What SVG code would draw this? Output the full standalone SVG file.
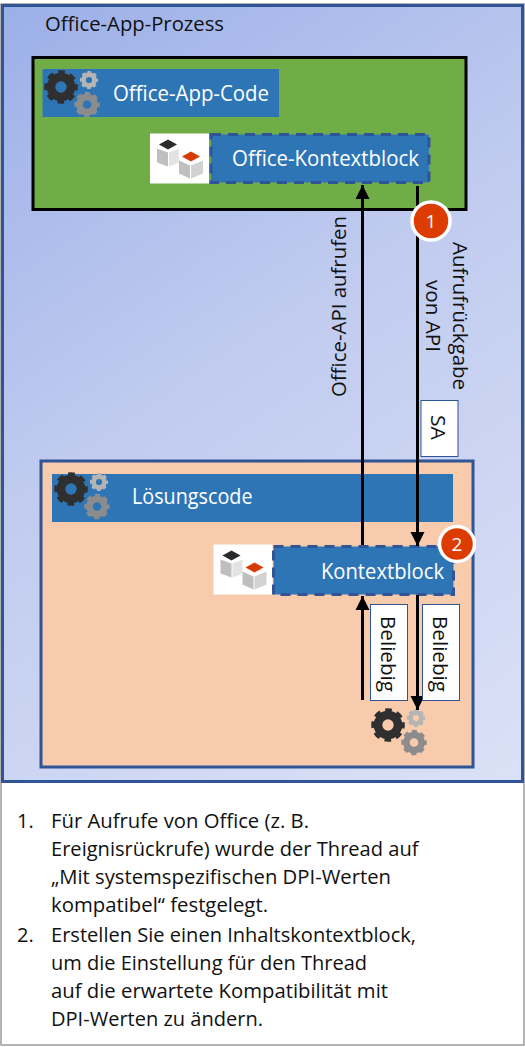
<svg xmlns="http://www.w3.org/2000/svg" xmlns:xlink="http://www.w3.org/1999/xlink" width="525" height="1047" viewBox="0 0 525 1047">
<style>
text{font-family:"Open Sans","Noto Sans","Liberation Sans",sans-serif}
.t{font-size:20px;fill:#111}
.w{font-size:21px;fill:#fff}
.lb{font-size:20.5px;fill:#111}
.bl{fill:#2e75b6}
.dash{fill:#2e75b6;stroke:#2f5597;stroke-width:3;stroke-dasharray:10 7}
.box{fill:#fff;stroke:#2f5597;stroke-width:1}
.c{stroke:#000;stroke-width:3;fill:none}
.badge{fill:#dc3c00;stroke:#fff;stroke-width:3.5}
.bt{font-size:19px;fill:#fff;text-anchor:middle}
</style>
<defs>
<linearGradient id="bg" gradientUnits="userSpaceOnUse" x1="0" y1="0" x2="525" y2="780"><stop offset="0" stop-color="#9bafe8"/><stop offset="0.45" stop-color="#c0cbef"/><stop offset="1" stop-color="#dbe1f6"/></linearGradient>
<marker id="ah" markerUnits="userSpaceOnUse" markerWidth="15" markerHeight="16" refX="14" refY="7.500" orient="auto"><path d="M0 0.500L14 7.500L0 14.500Z" fill="#000"/></marker>
<g id="gear"><circle r="10" fill="none" stroke="currentColor" stroke-width="8.6"/><circle r="14.6" fill="none" stroke="currentColor" stroke-width="4.4" stroke-dasharray="6.5 4.97" stroke-dashoffset="3.2"/></g>
<g id="gears">
<use xlink:href="#gear" href="#gear" color="#2f2f2f"/>
<use xlink:href="#gear" href="#gear" transform="translate(28 -7) scale(.54)" color="#b5b5b5"/>
<use xlink:href="#gear" href="#gear" transform="translate(26 17.5) scale(.76)" color="#8c8c8c"/>
</g>
<g id="cubes">
<rect width="59" height="50" fill="#fff"/>
<path d="M7 15L18 19V33L7 29Z" fill="#bfbfbf"/><path d="M19 19L29 15V29L19 33Z" fill="#e3e3e3"/>
<path d="M9 11L18 6L27 11L18 16Z" fill="#2b2b2b"/>
<path d="M29 27L40 32V45L29 40Z" fill="#bfbfbf"/><path d="M41 32L53 27V40L41 45Z" fill="#d2d2d2"/>
<path d="M32 23L41 18L50 23L41 28Z" fill="#d83b01"/>
</g>
</defs>
<rect width="525" height="1047" fill="#fff"/>
<rect x="1" y="4" width="523" height="1041" fill="#fff" stroke="#9a9a9a" stroke-width="1.5"/>
<g id="office-app-prozess">
<rect x="2.500" y="5.500" width="520" height="776" fill="url(#bg)" stroke="#2f5597" stroke-width="3"/>
<text class="t" x="45" y="31" textLength="179" lengthAdjust="spacingAndGlyphs">Office-App-Prozess</text>
</g>
<g id="office-app">
<rect x="33" y="57.500" width="433" height="152" fill="#70ad47" stroke="#000" stroke-width="3"/>
</g>
<g id="office-app-code">
<rect class="bl" x="42.500" y="69" width="236.500" height="48"/>
<use xlink:href="#gears" href="#gears" x="61" y="87"/>
<text class="w" x="113" y="101" textLength="156" lengthAdjust="spacingAndGlyphs">Office-App-Code</text>
</g>
<g id="office-kontextblock">
<use xlink:href="#cubes" href="#cubes" x="150" y="133.500"/>
<rect class="dash" x="211" y="134.500" width="218" height="48"/>
<text class="w" x="232" y="166" textLength="187" lengthAdjust="spacingAndGlyphs">Office-Kontextblock</text>
</g>
<g id="loesung">
<rect x="41" y="461" width="432" height="306" fill="#f8cbad" stroke="#2f5597" stroke-width="3"/>
</g>
<g id="loesungscode">
<rect class="bl" x="52" y="474" width="401" height="48"/>
<use xlink:href="#gears" href="#gears" x="71" y="489"/>
<text class="w" x="132" y="504" textLength="120.500" lengthAdjust="spacingAndGlyphs">Lösungscode</text>
</g>
<g id="kontextblock">
<use xlink:href="#cubes" href="#cubes" x="213.500" y="544.500"/>
<rect class="dash" x="273.500" y="546.500" width="180" height="48"/>
<text class="w" x="321" y="579" textLength="123" lengthAdjust="spacingAndGlyphs">Kontextblock</text>
</g>
<g id="code-gears">
<use xlink:href="#gears" href="#gears" x="388" y="725"/>
</g>
<g id="connectors">
<path class="c" d="M362.500 545V185" marker-end="url(#ah)"/>
<path class="c" d="M417.500 186V546" marker-end="url(#ah)"/>
<path class="c" d="M362.500 700V596" marker-end="url(#ah)"/>
<path class="c" d="M417.500 595V710" marker-end="url(#ah)"/>
</g>
<g id="labels">
<text class="lb" transform="translate(346 397) rotate(-90)" textLength="181" lengthAdjust="spacingAndGlyphs">Office-API aufrufen</text>
<text class="lb" transform="translate(453 242) rotate(90)" textLength="148" lengthAdjust="spacingAndGlyphs">Aufrufrückgabe</text>
<text class="lb" transform="translate(426 280) rotate(90)" textLength="72" lengthAdjust="spacingAndGlyphs">von API</text>
<rect class="box" x="421" y="400.500" width="37" height="56"/>
<text class="lb" transform="translate(431 415) rotate(90)" textLength="25" lengthAdjust="spacingAndGlyphs">SA</text>
<rect class="box" x="370.500" y="604.500" width="37" height="96"/>
<text class="lb" transform="translate(381 616) rotate(90)" textLength="76" lengthAdjust="spacingAndGlyphs">Beliebig</text>
<rect class="box" x="422.500" y="604.500" width="37" height="96"/>
<text class="lb" transform="translate(433 616) rotate(90)" textLength="76" lengthAdjust="spacingAndGlyphs">Beliebig</text>
</g>
<g id="badge-1"><circle class="badge" cx="431" cy="221" r="19"/><text class="bt" x="431" y="228">1</text></g>
<g id="badge-2"><circle class="badge" cx="457" cy="544" r="17.500"/><text class="bt" x="457" y="551">2</text></g>
<g id="notes">
<text class="t" x="17" y="827.500">1.</text>
<text class="t" x="51" y="827.500" textLength="258" lengthAdjust="spacingAndGlyphs">Für Aufrufe von Office (z. B.</text>
<text class="t" x="51" y="855.700" textLength="367.500" lengthAdjust="spacingAndGlyphs">Ereignisrückrufe) wurde der Thread auf</text>
<text class="t" x="51" y="884" textLength="340" lengthAdjust="spacingAndGlyphs">„Mit systemspezifischen DPI-Werten</text>
<text class="t" x="51" y="912" textLength="217" lengthAdjust="spacingAndGlyphs">kompatibel“ festgelegt.</text>
<text class="t" x="17" y="941.700">2.</text>
<text class="t" x="51" y="941.700" textLength="365" lengthAdjust="spacingAndGlyphs">Erstellen Sie einen Inhaltskontextblock,</text>
<text class="t" x="51" y="970" textLength="316" lengthAdjust="spacingAndGlyphs">um die Einstellung für den Thread</text>
<text class="t" x="51" y="998" textLength="337" lengthAdjust="spacingAndGlyphs">auf die erwartete Kompatibilität mit</text>
<text class="t" x="51" y="1026" textLength="212" lengthAdjust="spacingAndGlyphs">DPI-Werten zu ändern.</text>
</g>
</svg>
